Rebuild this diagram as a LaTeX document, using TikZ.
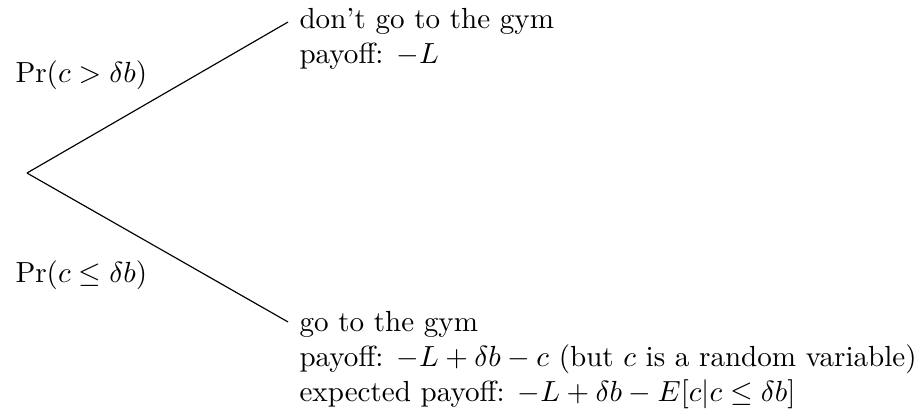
\documentclass[tikz,border=0pt]{standalone}
\usepackage{amsmath,amssymb}
\usepackage{tikz}
\usetikzlibrary{positioning}

\begin{document}
\begin{tikzpicture}[
  branch/.style={thin},
  outcome/.style={anchor=base west,inner sep=0pt},
  prob/.style={anchor=base west,inner sep=0pt}
]
\useasboundingbox (0,0) rectangle (11.13,5.027);
\coordinate (root) at (0.326,2.936);
\coordinate (up) at (3.481,4.761);
\coordinate (down) at (3.481,1.136);
\draw[branch] (root)--(up);
\draw[branch] (root)--(down);
% upper branch
\node[outcome] (skip) at (3.613,4.677) {don't go to the gym};
\node[outcome] (skippay) at ([yshift=-12pt]skip.base west) {payoff: $-L$};
% lower branch
\node[outcome] (gym) at (3.613,1.015) {go to the gym};
\node[outcome] (gympay) at ([yshift=-12pt]gym.base west) {payoff: $-L+\delta b-c$ (but $c$ is a random variable)};
\node[outcome] (gymexp) at ([yshift=-12pt]gympay.base west) {expected payoff: $-L+\delta b-E[c|c\leq\delta b]$};
% probabilities
\node[prob] (pskip) at (0.181,4.036) {$\Pr(c>\delta b)$};
\node[prob] (pgym) at (0.181,1.619) {$\Pr(c\leq\delta b)$};
\end{tikzpicture}
\end{document}
